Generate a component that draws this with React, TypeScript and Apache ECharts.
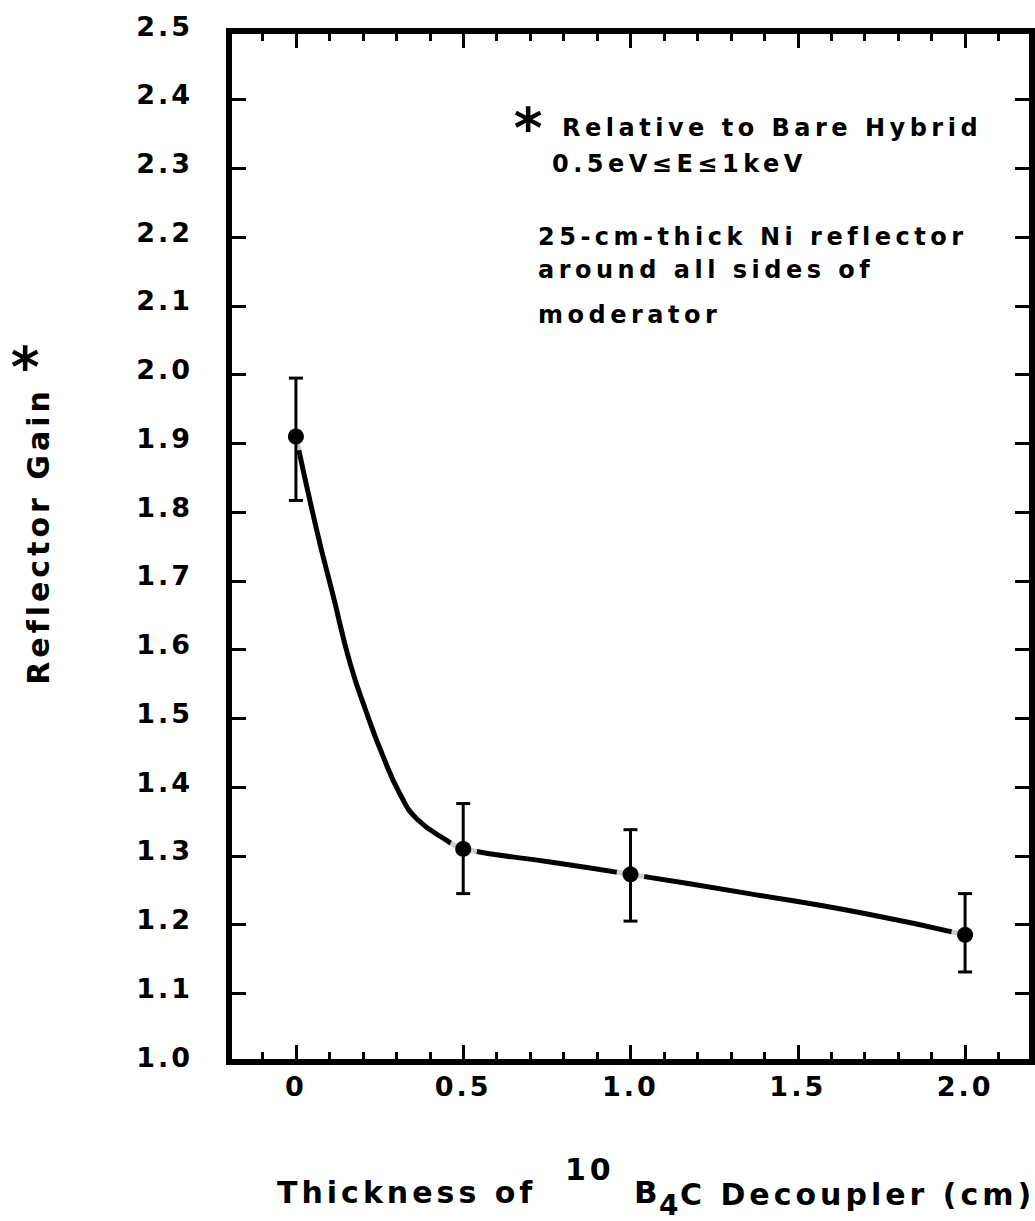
import React, { useEffect, useRef } from "react";
import * as echarts from "echarts";

// ---- data ----
const thickness = [0, 0.5, 1.0, 2.0];
const gain = [1.91, 1.31, 1.273, 1.185];
const gainLow = [1.817, 1.245, 1.205, 1.131];
const gainHigh = [1.995, 1.376, 1.338, 1.245];

// hand-drawn guide curve
const curveX = [0, 0.062, 0.112, 0.162, 0.212, 0.261, 0.311, 0.361, 0.455, 0.5, 0.76, 1.0, 1.354, 1.7, 2.0];
const curveY = [1.91, 1.774, 1.677, 1.58, 1.507, 1.444, 1.39, 1.354, 1.321, 1.31, 1.291, 1.273, 1.245, 1.216, 1.185];

const xMajorTicks = [0, 0.5, 1.0, 1.5, 2.0];
const xTickLabels = ["0", "0.5", "1.0", "1.5", "2.0"];
const xMinorTicks = [-0.1, 0.1, 0.2, 0.3, 0.4, 0.6, 0.7, 0.8, 0.9, 1.1, 1.2, 1.3, 1.4, 1.6, 1.7, 1.8, 1.9, 2.1];
const yTickValues = [1.0, 1.1, 1.2, 1.3, 1.4, 1.5, 1.6, 1.7, 1.8, 1.9, 2.0, 2.1, 2.2, 2.3, 2.4, 2.5];
const yTickLabels = ["1.0", "1.1", "1.2", "1.3", "1.4", "1.5", "1.6", "1.7", "1.8", "1.9", "2.0", "2.1", "2.2", "2.3", "2.4", "2.5"];

const annotationLines = [
  "Relative to Bare Hybrid",
  "0.5eV\u2264E\u22641keV",
  "25-cm-thick Ni reflector",
  "around all sides of",
  "moderator",
];

const FONT = "DejaVu Sans";
const TICK_FS = 27;
const TITLE_FS = 30;
const ANN_FS = 24;
const STAR_FS = 55;
const SPACING: Record<number, number> = { 27: 3, 30: 4, 24: 4.5, 55: 0 };

function txt(text: string, x: number, y: number, fs: number, align = "left", extra: any = {}) {
  return {
    type: "text",
    x,
    y,
    silent: true,
    z: 100,
    ...extra,
    style: {
      text,
      fill: "#000",
      fontSize: fs,
      fontWeight: "bold",
      fontFamily: FONT,
      align,
      textAlign: align,
      verticalAlign: "middle",
      textVerticalAlign: "middle",
    },
  };
}

export default function App() {
  const ref = useRef<HTMLDivElement>(null);

  useEffect(() => {
    if (!ref.current) return;
    const el = ref.current;
    const chart = echarts.init(el, undefined, { renderer: "svg" });

    const fmtX = (v: number) => {
      const i = xMajorTicks.findIndex((t) => Math.abs(t - v) < 1e-6);
      return i >= 0 ? xTickLabels[i] : "";
    };
    const fmtY = (v: number) => {
      const i = yTickValues.findIndex((t) => Math.abs(t - v) < 1e-6);
      return i >= 0 ? yTickLabels[i] : "";
    };

    const baseX = {
      type: "value",
      min: -0.2,
      max: 2.2,
      splitLine: { show: false },
      silent: true,
    };
    const baseY = {
      type: "value",
      min: 1.0,
      max: 2.5,
      interval: 0.1,
      splitLine: { show: false },
      silent: true,
    };
    const axisLine = { show: true, onZero: false, lineStyle: { color: "#000", width: 6, cap: "square" } };
    const noLine = { show: false, onZero: false };
    const tickStyle = { color: "#000", width: 3 };

    const option: any = {
      animation: false,
      backgroundColor: "#fff",
      grid: { left: 229, top: 31, width: 803, height: 1031, containLabel: false },
      xAxis: [
        {
          ...baseX,
          position: "bottom",
          axisLine,
          axisTick: { show: true, inside: true, length: 17, customValues: xMajorTicks, lineStyle: tickStyle },
          axisLabel: {
            show: true,
            customValues: xMajorTicks,
            formatter: fmtX,
            margin: 11,
            color: "#000",
            fontSize: TICK_FS,
            fontWeight: "bold",
            fontFamily: FONT,
          },
        },
        {
          ...baseX,
          position: "bottom",
          axisLine: noLine,
          axisTick: { show: true, inside: true, length: 10, customValues: xMinorTicks, lineStyle: tickStyle },
          axisLabel: { show: false },
        },
        {
          ...baseX,
          position: "top",
          axisLine,
          axisTick: { show: true, inside: true, length: 17, customValues: xMajorTicks, lineStyle: tickStyle },
          axisLabel: { show: false },
        },
        {
          ...baseX,
          position: "top",
          axisLine: noLine,
          axisTick: { show: true, inside: true, length: 10, customValues: xMinorTicks, lineStyle: tickStyle },
          axisLabel: { show: false },
        },
      ],
      yAxis: [
        {
          ...baseY,
          position: "left",
          axisLine,
          axisTick: { show: true, inside: true, length: 17, lineStyle: tickStyle },
          axisLabel: {
            show: true,
            formatter: fmtY,
            margin: 36,
            color: "#000",
            fontSize: TICK_FS,
            fontWeight: "bold",
            fontFamily: FONT,
            verticalAlign: "bottom",
            lineHeight: 10,
          },
        },
        {
          ...baseY,
          position: "right",
          axisLine,
          axisTick: { show: true, inside: true, length: 17, lineStyle: tickStyle },
          axisLabel: { show: false },
        },
      ],
      series: [
        {
          type: "line",
          data: curveX.map((x, i) => [x, curveY[i]]),
          smooth: 0.5,
          showSymbol: false,
          symbol: "none",
          lineStyle: { color: "#000", width: 5 },
          z: 2,
          silent: true,
        },
        {
          type: "scatter",
          data: thickness.map((x, i) => [x, gain[i]]),
          symbol: "circle",
          symbolSize: 28,
          itemStyle: { color: "#fff" },
          z: 3,
          silent: true,
        },
        {
          type: "custom",
          data: thickness.map((x, i) => [x, gainLow[i], gainHigh[i]]),
          encode: { x: 0, y: [1, 2] },
          z: 4,
          silent: true,
          renderItem: (params: any, api: any) => {
            const x = api.value(0);
            const lo = api.coord([x, api.value(1)]);
            const hi = api.coord([x, api.value(2)]);
            const w = 7;
            const st = { stroke: "#000", lineWidth: 3 };
            return {
              type: "group",
              children: [
                { type: "line", shape: { x1: lo[0], y1: lo[1], x2: hi[0], y2: hi[1] }, style: st },
                { type: "line", shape: { x1: lo[0] - w, y1: lo[1], x2: lo[0] + w, y2: lo[1] }, style: st },
                { type: "line", shape: { x1: hi[0] - w, y1: hi[1], x2: hi[0] + w, y2: hi[1] }, style: st },
              ],
            };
          },
        },
        {
          type: "scatter",
          data: thickness.map((x, i) => [x, gain[i]]),
          symbol: "circle",
          symbolSize: 16,
          itemStyle: { color: "#000", opacity: 1 },
          z: 5,
          silent: true,
        },
      ],
      graphic: {
        elements: [
          // annotation block
          txt("*", 528, 128, STAR_FS, "center"),
          txt(annotationLines[0], 562, 127.5, ANN_FS),
          txt(annotationLines[1], 552, 164, ANN_FS),
          txt(annotationLines[2], 538, 237, ANN_FS),
          txt(annotationLines[3], 538, 270, ANN_FS),
          txt(annotationLines[4], 538, 315, ANN_FS),
          // y-axis title
          txt("Reflector Gain", 38.5, 536, TITLE_FS, "center", { rotation: Math.PI / 2 }),
          txt("*", 25, 367, STAR_FS, "center"),
          // x-axis title
          txt("Thickness of", 277, 1192, TITLE_FS),
          txt("10", 565, 1169, TITLE_FS),
          txt("B", 634, 1192, 31),
          txt("4", 659, 1205, 28),
          txt("C Decoupler (cm)", 680, 1194, TITLE_FS),
        ],
      },
    };

    const applySpacing = () => {
      el.querySelectorAll("text").forEach((t) => {
        const fs = Math.round(parseFloat(getComputedStyle(t).fontSize));
        const sp = SPACING[fs];
        if (sp !== undefined) (t as SVGTextElement).style.letterSpacing = sp + "px";
      });
    };
    chart.on("finished", applySpacing);
    chart.setOption(option);
    applySpacing();
    const timer = setTimeout(applySpacing, 50);

    return () => {
      clearTimeout(timer);
      chart.dispose();
    };
  }, []);

  return (
    <div
      ref={ref}
      style={{ position: "absolute", left: 0, top: 0, width: 1035, height: 1221, background: "#fff" }}
    />
  );
}
